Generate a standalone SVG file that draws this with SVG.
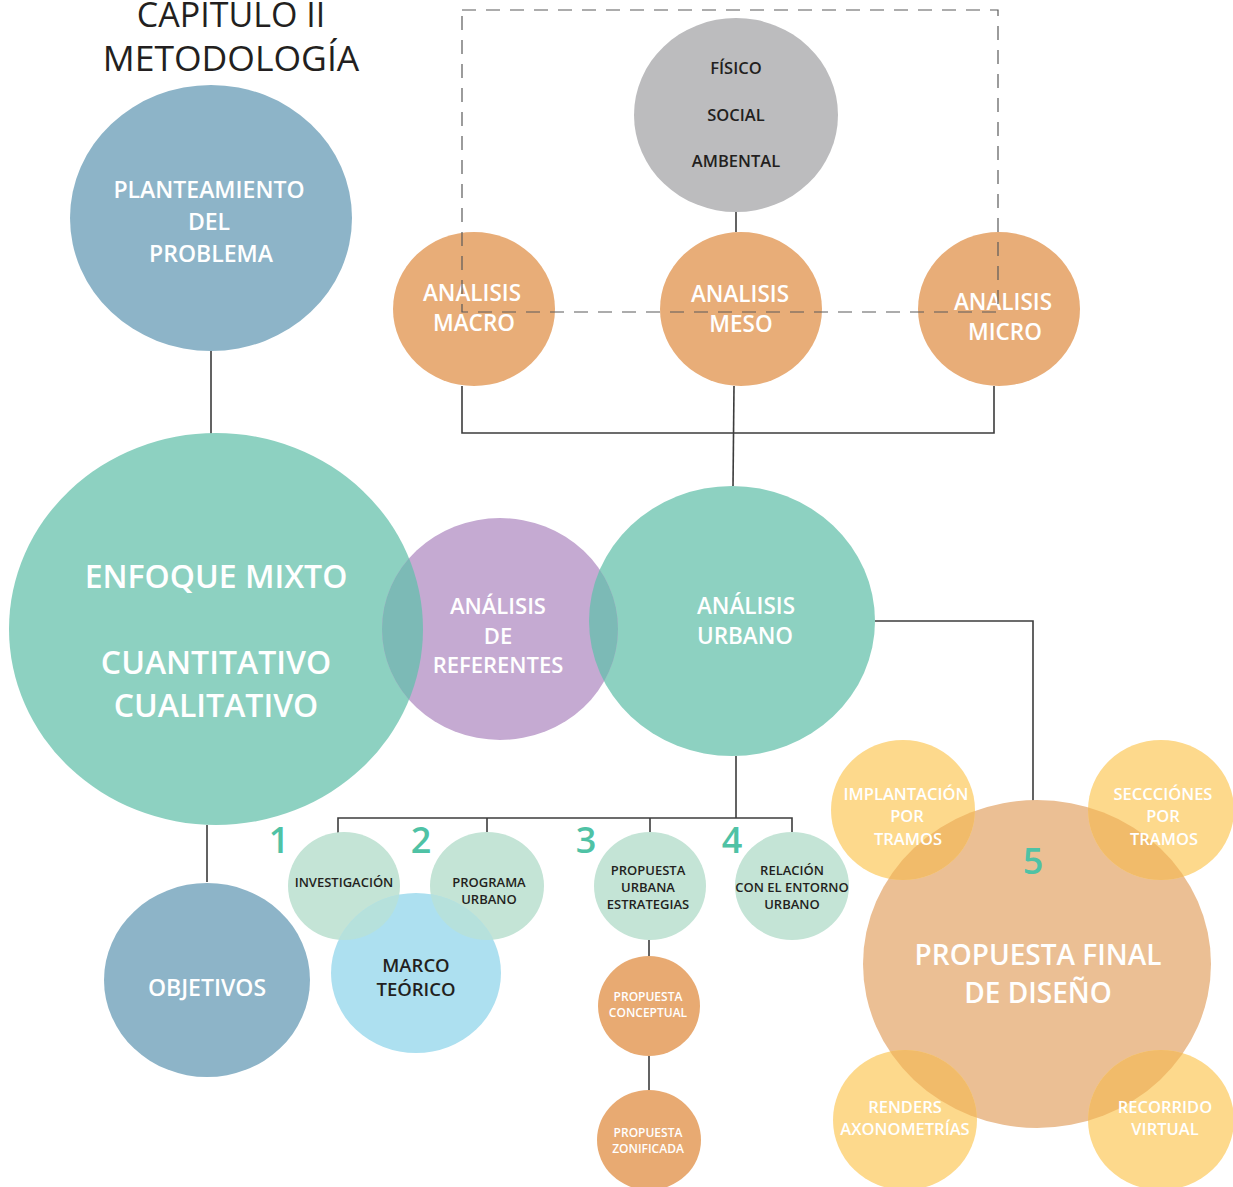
<svg xmlns="http://www.w3.org/2000/svg" width="1233" height="1187" viewBox="0 0 1233 1187">
<style>
text{font-family:"Open Sans","Liberation Sans",sans-serif;text-anchor:middle;font-weight:600}
.t{font-weight:400}
.w{fill:#ffffff}
.d{fill:#231f20}
.ln{stroke:#3c3c3c;stroke-width:1.6;fill:none}
.dash{stroke:#5a5a5a;stroke-width:1.2;fill:none;stroke-dasharray:14 10}
.num{fill:#4fc2a5;font-size:36px;font-weight:600}
.blue{fill:#8db4c8}
.teal{fill:#8dd1c1}
.purple{fill:#c5aad2}
.gray{fill:#bcbcbe}
.or{fill:#e8ad78}
.grn{fill:#c4e4d6}
.sky{fill:#ade0f0}
.or2{fill:#e8aa72}
.fin{fill:#ebbf94}
.yel{fill:#fdd98c}
</style>
<defs>
<clipPath id="cEnf"><ellipse cx="216" cy="629" rx="207" ry="196"/></clipPath>
<clipPath id="cUrb"><ellipse cx="732" cy="621" rx="143" ry="135"/></clipPath>
<clipPath id="cInv"><ellipse cx="344" cy="886" rx="56" ry="54"/></clipPath>
<clipPath id="cPro"><ellipse cx="487" cy="886" rx="57" ry="54"/></clipPath>
<clipPath id="cFin"><ellipse cx="1037" cy="964" rx="174" ry="164"/></clipPath>
</defs>

<g id="title">
<text class="d t" x="231" y="27" font-size="34">CAPITULO II</text>
<text class="d t" x="231" y="71" font-size="35.5">METODOLOGÍA</text>
</g>

<g id="connectors">
<line class="ln" x1="211" y1="350" x2="211" y2="434"/>
<line class="ln" x1="207" y1="825" x2="207" y2="882"/>
<line class="ln" x1="736" y1="212" x2="736" y2="232"/>
<polyline class="ln" points="462,386 462,433 994,433 994,386"/>
<line class="ln" x1="734" y1="386" x2="733" y2="486"/>
<polyline class="ln" points="875,621 1033,621 1033,802"/>
<line class="ln" x1="736" y1="756" x2="736" y2="818"/>
<polyline class="ln" points="338,833 338,818 792,818 792,833"/>
<line class="ln" x1="487" y1="818" x2="487" y2="833"/>
<line class="ln" x1="650" y1="818" x2="650" y2="833"/>
<line class="ln" x1="649" y1="940" x2="649" y2="956"/>
<line class="ln" x1="649" y1="1056" x2="649" y2="1090"/>
</g>

<g id="planteamiento">
<ellipse class="blue" cx="211" cy="218" rx="141" ry="133"/>
<text class="w" font-size="23"><tspan x="209" y="198">PLANTEAMIENTO</tspan><tspan x="209" y="230">DEL</tspan><tspan x="211" y="262">PROBLEMA</tspan></text>
</g>

<g id="fisico">
<ellipse class="gray" cx="736" cy="115" rx="102" ry="97"/>
<text class="d" font-size="16.5"><tspan x="736" y="74">FÍSICO</tspan><tspan x="736" y="121">SOCIAL</tspan><tspan x="736" y="167">AMBENTAL</tspan></text>
</g>

<g id="macro">
<ellipse class="or" cx="474" cy="309" rx="81" ry="77"/>
<text class="w" font-size="22.5"><tspan x="472" y="301">ANALISIS</tspan><tspan x="474" y="331">MACRO</tspan></text>
</g>
<g id="meso">
<ellipse class="or" cx="741" cy="309" rx="81" ry="77"/>
<text class="w" font-size="22.5"><tspan x="740" y="302">ANALISIS</tspan><tspan x="741" y="332">MESO</tspan></text>
</g>
<g id="micro">
<ellipse class="or" cx="999" cy="309" rx="81" ry="77"/>
<text class="w" font-size="22.5"><tspan x="1003" y="310">ANALISIS</tspan><tspan x="1005" y="340">MICRO</tspan></text>
</g>

<g id="frame">
<rect class="dash" x="462" y="10" width="536" height="302"/>
</g>

<g id="enfoque">
<ellipse class="teal" cx="216" cy="629" rx="207" ry="196"/>
<text class="w" font-size="32"><tspan x="216" y="588">ENFOQUE MIXTO</tspan><tspan x="216" y="674">CUANTITATIVO</tspan><tspan x="216" y="717">CUALITATIVO</tspan></text>
</g>

<g id="urbano">
<ellipse class="teal" cx="732" cy="621" rx="143" ry="135"/>
<text class="w" font-size="22.5"><tspan x="746" y="614">ANÁLISIS</tspan><tspan x="745" y="644">URBANO</tspan></text>
</g>

<g id="referentes">
<ellipse class="purple" cx="500" cy="629" rx="118" ry="111"/>
<ellipse clip-path="url(#cEnf)" fill="#7cbab6" cx="500" cy="629" rx="118" ry="111"/>
<ellipse clip-path="url(#cUrb)" fill="#7cbab6" cx="500" cy="629" rx="118" ry="111"/>
<text class="w" font-size="22"><tspan x="498" y="614">ANÁLISIS</tspan><tspan x="498" y="644">DE</tspan><tspan x="498" y="673">REFERENTES</tspan></text>
</g>

<g id="objetivos">
<ellipse class="blue" cx="207" cy="980" rx="103" ry="97"/>
<text class="w" font-size="23" x="207" y="996">OBJETIVOS</text>
</g>

<g id="investigacion">
<ellipse class="grn" cx="344" cy="886" rx="56" ry="54"/>
<text class="d" font-size="13" x="344" y="887">INVESTIGACIÓN</text>
</g>
<g id="programa">
<ellipse class="grn" cx="487" cy="886" rx="57" ry="54"/>
<text class="d" font-size="13"><tspan x="489" y="887">PROGRAMA</tspan><tspan x="489" y="904">URBANO</tspan></text>
</g>

<g id="marco">
<ellipse class="sky" cx="416" cy="973" rx="85" ry="80"/>
<ellipse clip-path="url(#cInv)" fill="#b6e1dc" cx="416" cy="973" rx="85" ry="80"/>
<ellipse clip-path="url(#cPro)" fill="#b6e1dc" cx="416" cy="973" rx="85" ry="80"/>
<text class="d" font-size="18.5"><tspan x="416" y="972">MARCO</tspan><tspan x="416" y="996">TEÓRICO</tspan></text>
</g>

<g id="estrategias">
<ellipse class="grn" cx="650" cy="886" rx="56" ry="54"/>
<text class="d" font-size="13"><tspan x="648" y="875">PROPUESTA</tspan><tspan x="648" y="892">URBANA</tspan><tspan x="648" y="909">ESTRATEGIAS</tspan></text>
</g>
<g id="relacion">
<ellipse class="grn" cx="792" cy="886" rx="57" ry="54"/>
<text class="d" font-size="13"><tspan x="792" y="875">RELACIÓN</tspan><tspan x="792" y="892">CON EL ENTORNO</tspan><tspan x="792" y="909">URBANO</tspan></text>
</g>

<g id="conceptual">
<ellipse class="or2" cx="649" cy="1006" rx="51" ry="50"/>
<text class="w" font-size="12"><tspan x="648" y="1001">PROPUESTA</tspan><tspan x="648" y="1017">CONCEPTUAL</tspan></text>
</g>
<g id="zonificada">
<ellipse class="or2" cx="649" cy="1140" rx="52" ry="50"/>
<text class="w" font-size="12"><tspan x="648" y="1137">PROPUESTA</tspan><tspan x="648" y="1153">ZONIFICADA</tspan></text>
</g>

<g id="numbers">
<text class="num" x="279" y="853">1</text>
<text class="num" x="421" y="853">2</text>
<text class="num" x="586" y="853">3</text>
<text class="num" x="732" y="853">4</text>
</g>

<g id="final">
<ellipse class="fin" cx="1037" cy="964" rx="174" ry="164"/>
<text class="num" x="1033" y="874">5</text>
<text class="w" font-size="28"><tspan x="1038" y="965">PROPUESTA FINAL</tspan><tspan x="1038" y="1003">DE DISEÑO</tspan></text>
</g>

<g id="implantacion">
<ellipse class="yel" cx="903" cy="810" rx="72" ry="70"/>
<ellipse clip-path="url(#cFin)" fill="#f1bb6a" cx="903" cy="810" rx="72" ry="70"/>
<text class="w" font-size="16.5"><tspan x="906" y="800">IMPLANTACIÓN</tspan><tspan x="907" y="822">POR</tspan><tspan x="908" y="845">TRAMOS</tspan></text>
</g>
<g id="secciones">
<ellipse class="yel" cx="1161" cy="810" rx="73" ry="70"/>
<ellipse clip-path="url(#cFin)" fill="#f1bb6a" cx="1161" cy="810" rx="73" ry="70"/>
<text class="w" font-size="16.5"><tspan x="1163" y="800">SECCCIÓNES</tspan><tspan x="1163" y="822">POR</tspan><tspan x="1164" y="845">TRAMOS</tspan></text>
</g>
<g id="renders">
<ellipse class="yel" cx="905" cy="1120" rx="72" ry="70"/>
<ellipse clip-path="url(#cFin)" fill="#f1bb6a" cx="905" cy="1120" rx="72" ry="70"/>
<text class="w" font-size="16.5"><tspan x="905" y="1113">RENDERS</tspan><tspan x="905" y="1135">AXONOMETRÍAS</tspan></text>
</g>
<g id="recorrido">
<ellipse class="yel" cx="1161" cy="1120" rx="73" ry="70"/>
<ellipse clip-path="url(#cFin)" fill="#f1bb6a" cx="1161" cy="1120" rx="73" ry="70"/>
<text class="w" font-size="16.5"><tspan x="1165" y="1113">RECORRIDO</tspan><tspan x="1165" y="1135">VIRTUAL</tspan></text>
</g>
</svg>
